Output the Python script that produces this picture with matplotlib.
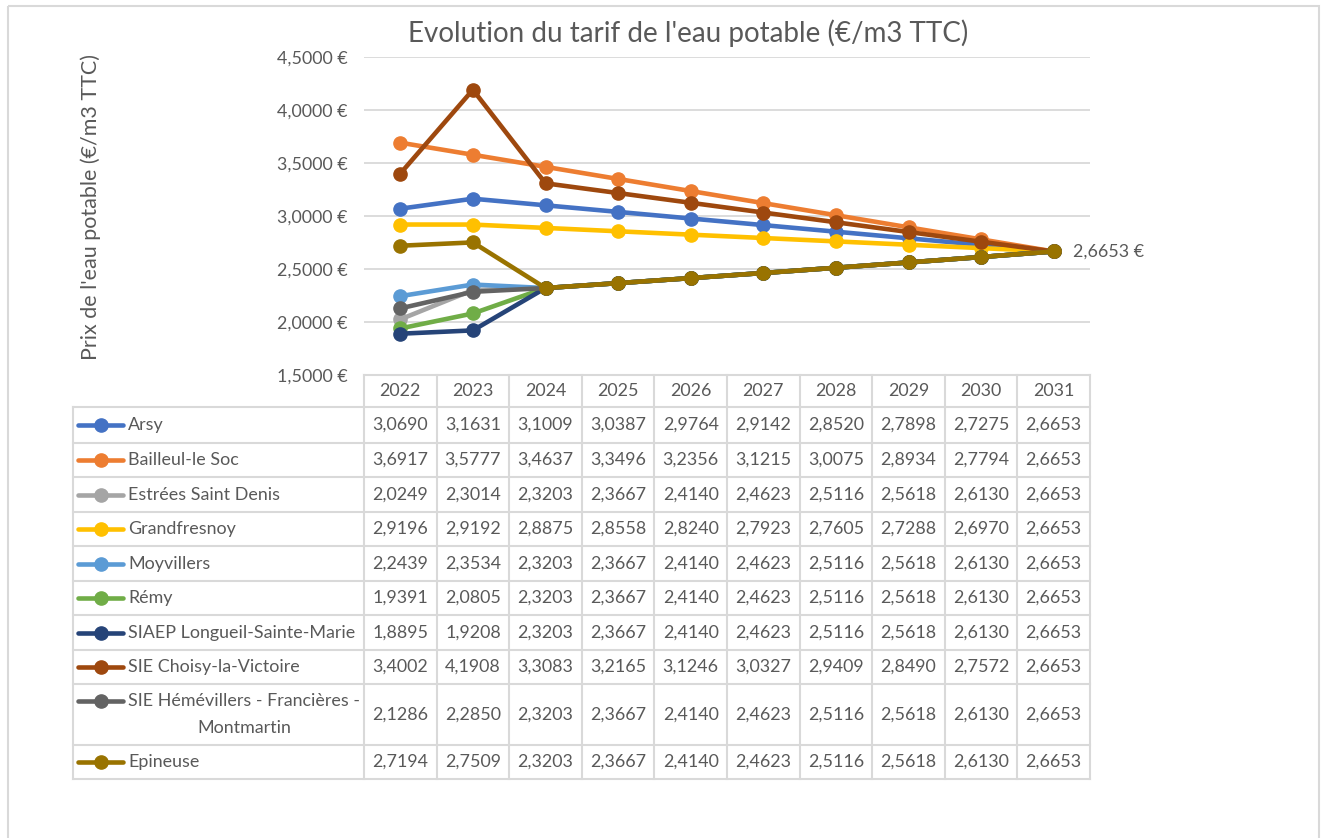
import matplotlib.pyplot as plt
from matplotlib.lines import Line2D
from matplotlib.patches import Rectangle

# DATA
years = [2022, 2023, 2024, 2025, 2026, 2027, 2028, 2029, 2030, 2031]
communes = [
    "Arsy", "Bailleul-le Soc", "Estrées Saint Denis", "Grandfresnoy", "Moyvillers",
    "Rémy", "SIAEP Longueil-Sainte-Marie", "SIE Choisy-la-Victoire",
    "SIE Hémévillers - Francières -\nMontmartin", "Epineuse",
]
arsy = [3.0690, 3.1631, 3.1009, 3.0387, 2.9764, 2.9142, 2.8520, 2.7898, 2.7275, 2.6653]
bailleul = [3.6917, 3.5777, 3.4637, 3.3496, 3.2356, 3.1215, 3.0075, 2.8934, 2.7794, 2.6653]
estrees = [2.0249, 2.3014, 2.3203, 2.3667, 2.4140, 2.4623, 2.5116, 2.5618, 2.6130, 2.6653]
grandfresnoy = [2.9196, 2.9192, 2.8875, 2.8558, 2.8240, 2.7923, 2.7605, 2.7288, 2.6970, 2.6653]
moyvillers = [2.2439, 2.3534, 2.3203, 2.3667, 2.4140, 2.4623, 2.5116, 2.5618, 2.6130, 2.6653]
remy = [1.9391, 2.0805, 2.3203, 2.3667, 2.4140, 2.4623, 2.5116, 2.5618, 2.6130, 2.6653]
siaep = [1.8895, 1.9208, 2.3203, 2.3667, 2.4140, 2.4623, 2.5116, 2.5618, 2.6130, 2.6653]
choisy = [3.4002, 4.1908, 3.3083, 3.2165, 3.1246, 3.0327, 2.9409, 2.8490, 2.7572, 2.6653]
hemevillers = [2.1286, 2.2850, 2.3203, 2.3667, 2.4140, 2.4623, 2.5116, 2.5618, 2.6130, 2.6653]
epineuse = [2.7194, 2.7509, 2.3203, 2.3667, 2.4140, 2.4623, 2.5116, 2.5618, 2.6130, 2.6653]
series = [arsy, bailleul, estrees, grandfresnoy, moyvillers, remy, siaep, choisy, hemevillers, epineuse]
yticks = [1.5, 2.0, 2.5, 3.0, 3.5, 4.0, 4.5]

COLORS = ["#4472C4", "#ED7D31", "#A5A5A5", "#FFC000", "#5B9BD5",
          "#70AD47", "#264478", "#9E480E", "#636363", "#997300"]
TXT = "#595959"
GRID = "#D9D9D9"
FONT = "Lato"
FS = 12.9

W, H = 1322, 838

def fmt(v):
    return f"{v:.4f}".replace(".", ",")

fig = plt.figure(figsize=(W / 100, H / 100), dpi=100)

# overlay in pixel coords for frame, title and table
ov = fig.add_axes([0, 0, 1, 1])
ov.set_xlim(0, W)
ov.set_ylim(H, 0)
ov.axis("off")
ov.add_patch(Rectangle((8, 6), 1311, 900, fill=False, ec=GRID, lw=1.5))

# plot area
x0, x1 = 364, 1090
y_top, y_bot = 57, 375
col_w = (x1 - x0) / len(years)
ax = fig.add_axes([x0 / W, 1 - y_bot / H, (x1 - x0) / W, (y_bot - y_top) / H])
ax.set_xlim(-0.5, len(years) - 0.5)
ax.set_ylim(1.5, 4.5)
for s in ax.spines.values():
    s.set_visible(False)
ax.set_xticks([])
ax.set_yticks(yticks)
ax.set_yticklabels([fmt(t) + " €" for t in yticks], fontsize=FS, color=TXT, family=FONT)
ax.tick_params(axis="y", length=0, pad=12)
for t in yticks[1:]:
    ax.axhline(t, color=GRID, lw=1.3, zorder=0)
ax.patch.set_alpha(0)

xs = list(range(len(years)))
for vals, c in zip(series, COLORS):
    ax.plot(xs, vals, color=c, lw=3.3, marker="o", ms=9.5, clip_on=False, zorder=3)
ax.annotate(fmt(epineuse[-1]) + " €", (xs[-1], epineuse[-1]), xytext=(14, 0),
            textcoords="offset points", va="center", fontsize=FS, color=TXT, family=FONT,
            annotation_clip=False)

ov.text(688, 33, "Evolution du tarif de l'eau potable (€/m3 TTC)", ha="center", va="center",
        fontsize=20, color=TXT, family=FONT)
ov.text(91, 207, "Prix de l'eau potable (€/m3 TTC)", ha="center", va="center",
        rotation=90, fontsize=15.5, color=TXT, family=FONT)

# data table
lab_x0 = 73
row_edges = [375, 407, 443, 477, 512, 546, 581, 615, 650, 684, 745, 779]
lw_t = 1.5
# header row
ov.plot([x0, x1], [row_edges[0], row_edges[0]], color=GRID, lw=lw_t)
for j, yr in enumerate(years):
    cx = x0 + col_w * (j + 0.5)
    ov.text(cx, (row_edges[0] + row_edges[1]) / 2, str(yr), ha="center", va="center",
            fontsize=FS, color=TXT, family=FONT)
for k in range(len(years) + 1):
    xv = x0 + col_w * k
    ov.plot([xv, xv], [row_edges[0], row_edges[-1]], color=GRID, lw=lw_t)
ov.plot([lab_x0, lab_x0], [row_edges[1], row_edges[-1]], color=GRID, lw=lw_t)
for yv in row_edges[1:]:
    ov.plot([lab_x0, x1], [yv, yv], color=GRID, lw=lw_t)

for i, (name, vals, c) in enumerate(zip(communes, series, COLORS)):
    top, bot = row_edges[i + 1], row_edges[i + 2]
    cy = (top + bot) / 2
    ly = cy if "\n" not in name else top + 17
    ov.add_line(Line2D([78, 123], [ly, ly], color=c, lw=3.3, solid_capstyle="round"))
    ov.plot([101], [ly], marker="o", color=c, ms=9.5)
    if "\n" in name:
        l1, l2 = name.split("\n")
        ov.text(128, ly, l1, ha="left", va="center", fontsize=FS, color=TXT, family=FONT)
        ov.text(244, ly + 27, l2, ha="center", va="center", fontsize=FS, color=TXT, family=FONT)
    else:
        ov.text(128, ly, name, ha="left", va="center", fontsize=FS, color=TXT, family=FONT)
    for j, v in enumerate(vals):
        ov.text(x0 + col_w * (j + 0.5), cy, fmt(v), ha="center", va="center",
                fontsize=FS, color=TXT, family=FONT)

fig.savefig("out.png", dpi=100)
